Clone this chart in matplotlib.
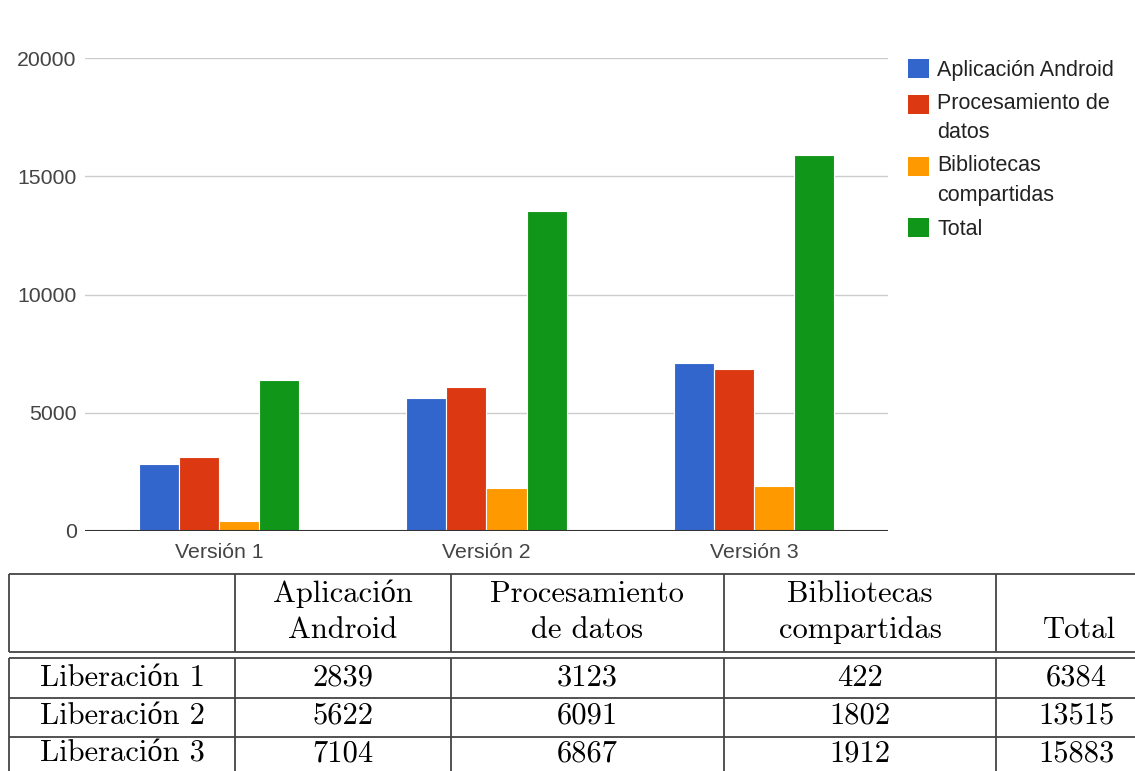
import matplotlib
matplotlib.use("Agg")
import matplotlib.pyplot as plt
from matplotlib.patches import Rectangle
from matplotlib.legend_handler import HandlerBase
import numpy as np

# ---------------- data ----------------
versions = ["Versión 1", "Versión 2", "Versión 3"]
legend_labels = ["Aplicación Android", "Procesamiento de\ndatos", "Bibliotecas\ncompartidas", "Total"]
aplicacion = [2839, 5622, 7104]
procesamiento = [3123, 6091, 6867]
bibliotecas = [422, 1802, 1912]
total = [6384, 13515, 15883]
yticks = [0, 5000, 10000, 15000, 20000]

row_labels = ["Liberación 1", "Liberación 2", "Liberación 3"]
header_top = ["Aplicación", "Procesamiento", "Bibliotecas", ""]
header_bot = ["Android", "de datos", "compartidas", "Total"]

colors = ["#3366cc", "#dc3912", "#ff9900", "#109618"]

W, H = 1135, 771
fig = plt.figure(figsize=(W / 100, H / 100), dpi=100)
fig.patch.set_facecolor("white")

# ---------------- bar chart ----------------
ax = fig.add_axes([85 / W, 1 - 531 / H, (888 - 85) / W, (531 - 58) / H])
x = np.arange(len(versions))
bw = 0.15
series = [aplicacion, procesamiento, bibliotecas, total]
for i, (vals, c, lab) in enumerate(zip(series, colors, legend_labels)):
    ax.bar(x + (i - 1.5) * bw, vals, width=bw, color=c, edgecolor="white",
           linewidth=0.8, label=lab, zorder=3)

ax.set_xlim(-0.5, 2.5)
ax.set_ylim(0, 20000)
ax.set_yticks(yticks)
ax.set_yticklabels([str(v) for v in yticks])
ax.set_xticks(x)
ax.set_xticklabels(versions)
for s in ax.spines.values():
    s.set_visible(False)
ax.grid(axis="y", color="#cccccc", linewidth=1.0, zorder=0)
ax.set_axisbelow(True)
ax.axhline(0, color="#333333", linewidth=1.5, zorder=4)
ax.tick_params(axis="both", length=0, labelsize=15.3, labelcolor="#444444")
ax.tick_params(axis="y", pad=6)
ax.tick_params(axis="x", pad=9)
for t in ax.get_xticklabels() + ax.get_yticklabels():
    t.set_fontfamily("Liberation Sans")


# legend with squares aligned to the first line of wrapped labels
class TopSquare(HandlerBase):
    def __init__(self, nlines, line_pt):
        super().__init__()
        self.nlines = nlines
        self.line_pt = line_pt

    def create_artists(self, legend, orig_handle, xdescent, ydescent, width,
                       height, fontsize, trans):
        dy = (self.nlines - 1) * self.line_pt / 2.0
        p = Rectangle((-xdescent, -ydescent + dy), width, height,
                      facecolor=orig_handle.get_facecolor(), edgecolor="none",
                      transform=trans)
        return [p]


leg_fs = 15.5
line_pt = 29 * 72 / 100.0
handles = [Rectangle((0, 0), 1, 1, facecolor=c) for c in colors]
hmap = {h: TopSquare(lab.count("\n") + 1, line_pt) for h, lab in zip(handles, legend_labels)}
leg = ax.legend(handles, legend_labels, handler_map=hmap,
                loc="upper left", bbox_to_anchor=(908 / W, 1 - 59 / H),
                bbox_transform=fig.transFigure, frameon=False,
                prop={"family": "Liberation Sans", "size": leg_fs},
                handlelength=0.97, handleheight=0.97, handletextpad=0.4,
                labelspacing=0.55, borderaxespad=0, borderpad=0)
for t in leg.get_texts():
    t.set_color("#222222")
    t.set_linespacing(1.55)

# ---------------- table ----------------
tax = fig.add_axes([0, 0, 1, (H - 560) / H])
tax.set_xlim(0, W)
tax.set_ylim(H, 560)
tax.axis("off")

col_edges = [9, 235, 451, 724, 996]
col_centers = [122, 343, 587, 860, 1076]
lc = "#444444"
lw = 1.3
for yy in [574, 652, 658, 698, 737]:
    tax.plot([col_edges[0], W], [yy, yy], color=lc, linewidth=lw, solid_capstyle="butt")
for xx in col_edges:
    tax.plot([xx, xx], [574, 652], color=lc, linewidth=lw, solid_capstyle="butt")
    tax.plot([xx, xx], [658, H], color=lc, linewidth=lw, solid_capstyle="butt")

serif = ["cmr10", "Liberation Serif"]
fs = 22
tc = "#000000"
for j in range(4):
    cx = col_centers[j + 1]
    if header_top[j]:
        tax.text(cx, 602, header_top[j], ha="center", va="baseline",
                 fontsize=fs, family=serif, color=tc)
    if j < 3:
        tax.text(cx, 638, header_bot[j], ha="center", va="baseline",
                 fontsize=fs, family=serif, color=tc)
    else:
        tax.text(1116, 638, header_bot[j], ha="right", va="baseline",
                 fontsize=fs, family=serif, color=tc)

row_base = [686, 724, 762]
for r in range(3):
    tax.text(col_centers[0], row_base[r], row_labels[r], ha="center", va="baseline",
             fontsize=fs, family=serif, color=tc)
    vals = [aplicacion[r], procesamiento[r], bibliotecas[r], total[r]]
    for j, v in enumerate(vals):
        tax.text(col_centers[j + 1], row_base[r], str(v),
                 ha="center", va="baseline", fontsize=fs, family=serif, color=tc)

fig.savefig("out.png", dpi=100, facecolor="white")
